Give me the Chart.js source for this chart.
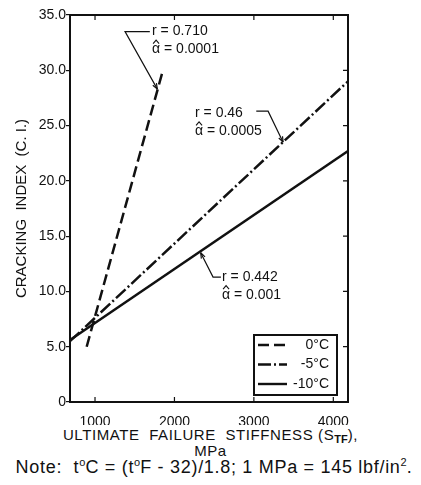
<!DOCTYPE html>
<html lang="en">
<head>
  <meta charset="UTF-8">
  <title>Cracking Index vs Ultimate Failure Stiffness</title>
  <script src="https://cdn.jsdelivr.net/npm/chart.js"></script>
  <style>
    body { margin: 0; background: #fff; }
    #wrap { position: relative; width: 421px; height: 485px; font-family: 'Liberation Sans', Arial, sans-serif; color: #111; }
    #plot { position: absolute; left: 0; top: 0; width: 421px; height: 425px; }
    .xtitle { position: absolute; left: 0; width: 421px; text-align: center; font-size: 15px; line-height: 16px; letter-spacing: 0.6px; white-space: pre; }
    .xtitle sub { font-size: 11px; font-weight: bold; vertical-align: -3px; line-height: 0; letter-spacing: 0; }
    .note { position: absolute; left: 0; width: 428px; text-align: center; top: 457px; font-size: 18px; line-height: 20px; letter-spacing: 0.7px; white-space: pre; }
    .note sup { font-size: 11px; vertical-align: 7px; line-height: 0; letter-spacing: 0; }
  </style>
</head>
<body>
  <div id="wrap">
    <div id="plot"><canvas id="ciChart"></canvas></div>
    <div class="xtitle" style="top:427px">ULTIMATE  FAILURE  STIFFNESS (S<sub>TF</sub>),</div>
    <div class="xtitle" style="top:443px">MPa</div>
    <div class="note">Note:  t<sup>o</sup>C = (t<sup>o</sup>F - 32)/1.8; 1 MPa = 145 lbf/in<sup>2</sup>.</div>
  </div>

  <script>
    // values
    const temperatures = ['0°C', '-5°C', '-10°C'];
    const stiffness0 = [895, 1855];
    const crackIndex0 = [5.0, 30.0];
    const stiffness5 = [685, 4185];
    const crackIndex5 = [5.5, 29.0];
    const stiffness10 = [685, 4185];
    const crackIndex10 = [5.6, 22.7];
    const rValues = ['0.710', '0.46', '0.442'];
    const alphaValues = ['0.0001', '0.0005', '0.001'];
    const xTicks = [1000, 2000, 3000, 4000];
    const yTicks = [0, 5, 10, 15, 20, 25, 30, 35];

    const toPoints = (xs, ys) => xs.map((v, i) => ({ x: v, y: ys[i] }));
    const dashes = [[11, 5], [13, 3, 2, 3], []];
    const font = "'Liberation Sans', Arial, sans-serif";

    // label anchors and leader lines, in data units
    const noteLayout = [
      { at: [1718, 33.5], leader: [[1690, 33.5], [1378, 33.5], [1785, 28.3]] },
      { at: [2259, 26.1], leader: [[3030, 26.3], [3179, 26.3], [3368, 23.5]] },
      { at: [2599, 11.3], leader: [[2585, 11.3], [2486, 11.3], [2330, 13.5]] }
    ];

    const paperPlugin = {
      id: 'paper',
      afterDatasetsDraw(chart) {
        const { ctx, chartArea: a, scales: { x, y } } = chart;
        ctx.save();
        ctx.strokeStyle = '#111';
        ctx.fillStyle = '#111';
        ctx.lineWidth = 2;
        ctx.strokeRect(a.left, a.top, a.right - a.left, a.bottom - a.top);

        // inward tick marks on bottom, top and right
        ctx.lineWidth = 1.2;
        ctx.beginPath();
        xTicks.forEach(v => {
          const px = x.getPixelForValue(v);
          ctx.moveTo(px, a.bottom); ctx.lineTo(px, a.bottom - 5);
          ctx.moveTo(px, a.top); ctx.lineTo(px, a.top + 5);
        });
        yTicks.slice(1, -1).forEach(v => {
          const py = y.getPixelForValue(v);
          ctx.moveTo(a.right, py); ctx.lineTo(a.right - 5, py);
        });
        ctx.stroke();

        // r / alpha-hat labels with leaders
        ctx.font = '14px ' + font;
        ctx.textBaseline = 'middle';
        ctx.textAlign = 'left';
        noteLayout.forEach((n, i) => {
          const tx = x.getPixelForValue(n.at[0]);
          const ty = y.getPixelForValue(n.at[1]);
          ctx.fillText('r = ' + rValues[i], tx, ty);
          const ay = ty + 18;
          const aw = ctx.measureText('α').width;
          ctx.fillText('α', tx, ay);
          ctx.lineWidth = 1.1;
          ctx.beginPath();
          ctx.moveTo(tx + aw / 2 - 3, ay - 6);
          ctx.lineTo(tx + aw / 2, ay - 9.5);
          ctx.lineTo(tx + aw / 2 + 3, ay - 6);
          ctx.stroke();
          ctx.fillText(' = ' + alphaValues[i], tx + aw, ay);

          const pts = n.leader.map(p => [x.getPixelForValue(p[0]), y.getPixelForValue(p[1])]);
          ctx.lineWidth = 1.2;
          ctx.beginPath();
          ctx.moveTo(pts[0][0], pts[0][1]);
          pts.slice(1).forEach(p => ctx.lineTo(p[0], p[1]));
          ctx.stroke();
          // small arrow head at the line end
          const [p1, p2] = [pts[pts.length - 2], pts[pts.length - 1]];
          const ang = Math.atan2(p2[1] - p1[1], p2[0] - p1[0]);
          ctx.beginPath();
          ctx.moveTo(p2[0], p2[1]);
          ctx.lineTo(p2[0] - 6 * Math.cos(ang - 0.35), p2[1] - 6 * Math.sin(ang - 0.35));
          ctx.moveTo(p2[0], p2[1]);
          ctx.lineTo(p2[0] - 6 * Math.cos(ang + 0.35), p2[1] - 6 * Math.sin(ang + 0.35));
          ctx.stroke();
        });

        // legend box in the lower right corner
        const bw = 83, bh = 60;
        const bx = a.right - 11 - bw, by = a.bottom - 7 - bh;
        ctx.fillStyle = '#fff';
        ctx.fillRect(bx, by, bw, bh);
        ctx.lineWidth = 2;
        ctx.strokeRect(bx, by, bw, bh);
        ctx.fillStyle = '#111';
        ctx.textAlign = 'right';
        chart.data.datasets.forEach((ds, i) => {
          const ly = by + 10 + i * 19.5;
          ctx.setLineDash(ds.borderDash);
          ctx.lineWidth = 2.4;
          ctx.beginPath();
          ctx.moveTo(bx + 4, ly); ctx.lineTo(bx + 33, ly);
          ctx.stroke();
          ctx.setLineDash([]);
          ctx.fillText(ds.label, bx + bw - 8, ly);
        });
        ctx.restore();
      }
    };

    const series = [toPoints(stiffness0, crackIndex0), toPoints(stiffness5, crackIndex5), toPoints(stiffness10, crackIndex10)];

    new Chart(document.getElementById('ciChart'), {
      type: 'line',
      data: {
        datasets: temperatures.map((t, i) => ({
          label: t,
          data: series[i],
          borderColor: '#111',
          borderWidth: 2.5,
          borderDash: dashes[i],
          pointRadius: 0,
          fill: false,
          tension: 0
        }))
      },
      options: {
        responsive: true,
        maintainAspectRatio: false,
        animation: false,
        layout: { padding: { left: 0, right: 73, top: 15, bottom: 0 } },
        plugins: { legend: { display: false }, tooltip: { enabled: false } },
        scales: {
          x: {
            type: 'linear',
            min: 685,
            max: 4185,
            afterBuildTicks: s => { s.ticks = xTicks.map(v => ({ value: v })); },
            afterFit: s => { s.height = 23; },
            grid: { display: false },
            border: { display: false },
            ticks: { color: '#111', padding: 4, font: { family: font, size: 14 }, callback: v => String(v) }
          },
          y: {
            min: 0,
            max: 35,
            afterBuildTicks: s => { s.ticks = yTicks.map(v => ({ value: v })); },
            afterFit: s => { s.width = 70; },
            grid: { drawOnChartArea: false, drawTicks: true, tickLength: 4, color: '#111', lineWidth: 1.2 },
            border: { display: false },
            ticks: { color: '#111', padding: 0, font: { family: font, size: 14 }, callback: v => v === 0 ? '0' : v.toFixed(1) },
            title: {
              display: true,
              text: 'CRACKING  INDEX  (C. I.)',
              color: '#111',
              font: { family: font, size: 15 },
              padding: { top: 13, bottom: 0 }
            }
          }
        }
      },
      plugins: [paperPlugin]
    });
  </script>
</body>
</html>
